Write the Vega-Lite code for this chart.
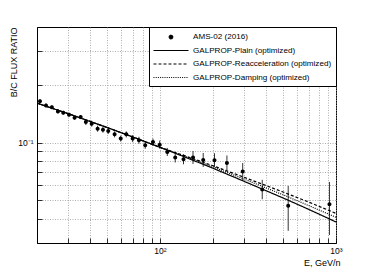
{
  "$schema": "https://vega.github.io/schema/vega-lite/v6.json",
  "width": 299,
  "height": 216,
  "autosize": "none",
  "padding": {"left": 37, "top": 27, "right": 38, "bottom": 27},
  "background": "white",
  "config": {
    "font": "Liberation Sans",
    "view": {"stroke": "black", "strokeWidth": 1},
    "axis": {
      "domainColor": "black",
      "ticks": true,
      "tickSize": -5,
      "tickColor": "black",
      "tickWidth": 0.8,
      "grid": true,
      "gridColor": "#9a9a9a",
      "gridDash": [1, 1.5],
      "gridWidth": 0.8,
      "labelColor": "black",
      "labelFontSize": 8.5,
      "titleColor": "black",
      "titleFontSize": 9,
      "titleFontWeight": "normal"
    },
    "legend": {
      "title": null, "orient": "none", "legendX": 112, "legendY": 0,
      "padding": 4, "strokeColor": "black", "fillColor": "white",
      "symbolSize": 116, "symbolOffset": 12, "labelOffset": 16, "rowPadding": 2.5,
      "labelFont": "Liberation Sans", "labelFontSize": 8.1, "labelColor": "black",
      "symbolStrokeWidth": 1.2, "labelLimit": 0
    }
  },
  "datasets": {
    "ams": [
      {"E": 20.8, "v": 0.1644, "lo": 0.1605, "hi": 0.1684, "series": "AMS-02 (2016)"},
      {"E": 22.5, "v": 0.1562, "lo": 0.1525, "hi": 0.1600, "series": "AMS-02 (2016)"},
      {"E": 24.3, "v": 0.1530, "lo": 0.1494, "hi": 0.1567, "series": "AMS-02 (2016)"},
      {"E": 26.3, "v": 0.1454, "lo": 0.1420, "hi": 0.1489, "series": "AMS-02 (2016)"},
      {"E": 28.2, "v": 0.1431, "lo": 0.1397, "hi": 0.1466, "series": "AMS-02 (2016)"},
      {"E": 30.4, "v": 0.1398, "lo": 0.1365, "hi": 0.1432, "series": "AMS-02 (2016)"},
      {"E": 32.7, "v": 0.1348, "lo": 0.1316, "hi": 0.1381, "series": "AMS-02 (2016)"},
      {"E": 35.4, "v": 0.1358, "lo": 0.1326, "hi": 0.1391, "series": "AMS-02 (2016)"},
      {"E": 37.9, "v": 0.1279, "lo": 0.1234, "hi": 0.1326, "series": "AMS-02 (2016)"},
      {"E": 40.9, "v": 0.1255, "lo": 0.1211, "hi": 0.1301, "series": "AMS-02 (2016)"},
      {"E": 44.2, "v": 0.1182, "lo": 0.1140, "hi": 0.1225, "series": "AMS-02 (2016)"},
      {"E": 47.4, "v": 0.1168, "lo": 0.1127, "hi": 0.1211, "series": "AMS-02 (2016)"},
      {"E": 50.8, "v": 0.1149, "lo": 0.1109, "hi": 0.1191, "series": "AMS-02 (2016)"},
      {"E": 55.2, "v": 0.1104, "lo": 0.1065, "hi": 0.1144, "series": "AMS-02 (2016)"},
      {"E": 59.8, "v": 0.1049, "lo": 0.1012, "hi": 0.1087, "series": "AMS-02 (2016)"},
      {"E": 64.3, "v": 0.1104, "lo": 0.1065, "hi": 0.1144, "series": "AMS-02 (2016)"},
      {"E": 69.9, "v": 0.1049, "lo": 0.1006, "hi": 0.1094, "series": "AMS-02 (2016)"},
      {"E": 75.9, "v": 0.1028, "lo": 0.0986, "hi": 0.1072, "series": "AMS-02 (2016)"},
      {"E": 82.4, "v": 0.0968, "lo": 0.0928, "hi": 0.1009, "series": "AMS-02 (2016)"},
      {"E": 91.2, "v": 0.1007, "lo": 0.0966, "hi": 0.1050, "series": "AMS-02 (2016)"},
      {"E": 99.6, "v": 0.0976, "lo": 0.0930, "hi": 0.1024, "series": "AMS-02 (2016)"},
      {"E": 110, "v": 0.0894, "lo": 0.0852, "hi": 0.0938, "series": "AMS-02 (2016)"},
      {"E": 122, "v": 0.0836, "lo": 0.0788, "hi": 0.0887, "series": "AMS-02 (2016)"},
      {"E": 136, "v": 0.0819, "lo": 0.0771, "hi": 0.0869, "series": "AMS-02 (2016)"},
      {"E": 154, "v": 0.0836, "lo": 0.0774, "hi": 0.0904, "series": "AMS-02 (2016)"},
      {"E": 176, "v": 0.0812, "lo": 0.0747, "hi": 0.0883, "series": "AMS-02 (2016)"},
      {"E": 204, "v": 0.0809, "lo": 0.0744, "hi": 0.0880, "series": "AMS-02 (2016)"},
      {"E": 240, "v": 0.0784, "lo": 0.0717, "hi": 0.0857, "series": "AMS-02 (2016)"},
      {"E": 295, "v": 0.0707, "lo": 0.0639, "hi": 0.0783, "series": "AMS-02 (2016)"},
      {"E": 381, "v": 0.0570, "lo": 0.0507, "hi": 0.0640, "series": "AMS-02 (2016)"},
      {"E": 535, "v": 0.0469, "lo": 0.0347, "hi": 0.0595, "series": "AMS-02 (2016)"},
      {"E": 918, "v": 0.0477, "lo": 0.0330, "hi": 0.0624, "series": "AMS-02 (2016)"}
    ],
    "model": [
      {"E": 20, "v": 0.1605, "series": "GALPROP-Plain (optimized)"},
      {"E": 30, "v": 0.1416, "series": "GALPROP-Plain (optimized)"},
      {"E": 50, "v": 0.1199, "series": "GALPROP-Plain (optimized)"},
      {"E": 70, "v": 0.1070, "series": "GALPROP-Plain (optimized)"},
      {"E": 100, "v": 0.0945, "series": "GALPROP-Plain (optimized)"},
      {"E": 150, "v": 0.0817, "series": "GALPROP-Plain (optimized)"},
      {"E": 200, "v": 0.0735, "series": "GALPROP-Plain (optimized)"},
      {"E": 300, "v": 0.0629, "series": "GALPROP-Plain (optimized)"},
      {"E": 500, "v": 0.0515, "series": "GALPROP-Plain (optimized)"},
      {"E": 700, "v": 0.0449, "series": "GALPROP-Plain (optimized)"},
      {"E": 1000, "v": 0.0386, "series": "GALPROP-Plain (optimized)"},
      {"E": 20, "v": 0.1605, "series": "GALPROP-Reacceleration (optimized)"},
      {"E": 30, "v": 0.1416, "series": "GALPROP-Reacceleration (optimized)"},
      {"E": 50, "v": 0.1199, "series": "GALPROP-Reacceleration (optimized)"},
      {"E": 70, "v": 0.1070, "series": "GALPROP-Reacceleration (optimized)"},
      {"E": 100, "v": 0.0945, "series": "GALPROP-Reacceleration (optimized)"},
      {"E": 150, "v": 0.0832, "series": "GALPROP-Reacceleration (optimized)"},
      {"E": 200, "v": 0.0758, "series": "GALPROP-Reacceleration (optimized)"},
      {"E": 300, "v": 0.0660, "series": "GALPROP-Reacceleration (optimized)"},
      {"E": 500, "v": 0.0553, "series": "GALPROP-Reacceleration (optimized)"},
      {"E": 700, "v": 0.0490, "series": "GALPROP-Reacceleration (optimized)"},
      {"E": 1000, "v": 0.0428, "series": "GALPROP-Reacceleration (optimized)"},
      {"E": 20, "v": 0.1605, "series": "GALPROP-Damping (optimized)"},
      {"E": 30, "v": 0.1416, "series": "GALPROP-Damping (optimized)"},
      {"E": 50, "v": 0.1199, "series": "GALPROP-Damping (optimized)"},
      {"E": 70, "v": 0.1070, "series": "GALPROP-Damping (optimized)"},
      {"E": 100, "v": 0.0945, "series": "GALPROP-Damping (optimized)"},
      {"E": 150, "v": 0.0825, "series": "GALPROP-Damping (optimized)"},
      {"E": 200, "v": 0.0747, "series": "GALPROP-Damping (optimized)"},
      {"E": 300, "v": 0.0646, "series": "GALPROP-Damping (optimized)"},
      {"E": 500, "v": 0.0535, "series": "GALPROP-Damping (optimized)"},
      {"E": 700, "v": 0.0470, "series": "GALPROP-Damping (optimized)"},
      {"E": 1000, "v": 0.0408, "series": "GALPROP-Damping (optimized)"}
    ]
  },
  "layer": [
    {
      "data": {"name": "model"},
      "mark": {"type": "line", "strokeWidth": 1.2, "clip": true},
      "encoding": {
        "x": {
          "field": "E", "type": "quantitative",
          "scale": {"type": "log", "domain": [20, 1000], "nice": false},
          "axis": {
            "values": [30, 40, 50, 60, 70, 80, 90, 100, 200, 300, 400, 500, 600, 700, 800, 900, 1000],
            "labelExpr": "datum.value == 100 ? '10²' : (datum.value == 1000 ? '10³' : '')",
            "labelPadding": 8,
            "labelFlush": false,
            "labelOverlap": false,
            "title": "E, GeV/n",
            "titleX": 303,
            "titleY": 22,
            "titleAlign": "right",
            "titleBaseline": "alphabetic",
            "titleAnchor": null
          }
        },
        "y": {
          "field": "v", "type": "quantitative",
          "scale": {"type": "log", "domain": [0.03, 0.4], "nice": false},
          "axis": {
            "values": [0.04, 0.05, 0.06, 0.07, 0.08, 0.09, 0.1, 0.2, 0.3],
            "labelExpr": "datum.value == 0.1 ? '10⁻¹' : ''",
            "labelPadding": 9,
            "labelOverlap": false,
            "title": "B/C FLUX RATIO",
            "titleX": -23.7,
            "titleY": 0,
            "titleAngle": -90,
            "titleAlign": "right",
            "titleBaseline": "middle",
            "titleAnchor": null
          }
        },
        "stroke": {
          "field": "series", "type": "nominal",
          "scale": {
            "domain": ["AMS-02 (2016)", "GALPROP-Plain (optimized)", "GALPROP-Reacceleration (optimized)", "GALPROP-Damping (optimized)"],
            "range": ["black", "black", "black", "black"]
          }
        },
        "strokeDash": {
          "field": "series", "type": "nominal",
          "scale": {
            "domain": ["AMS-02 (2016)", "GALPROP-Plain (optimized)", "GALPROP-Reacceleration (optimized)", "GALPROP-Damping (optimized)"],
            "range": [[1, 0], [1, 0], [3, 2], [1, 1.2]]
          }
        }
      }
    },
    {
      "data": {"name": "ams"},
      "mark": {"type": "rule", "color": "black", "strokeWidth": 0.8},
      "encoding": {
        "x": {"field": "E", "type": "quantitative"},
        "y": {"field": "lo", "type": "quantitative"},
        "y2": {"field": "hi"}
      }
    },
    {
      "data": {"name": "ams"},
      "mark": {"type": "point", "filled": true, "fill": "black", "size": 147, "opacity": 1},
      "encoding": {
        "x": {"field": "E", "type": "quantitative"},
        "y": {"field": "v", "type": "quantitative"},
        "shape": {
          "field": "series", "type": "nominal",
          "scale": {
            "domain": ["AMS-02 (2016)", "GALPROP-Plain (optimized)", "GALPROP-Reacceleration (optimized)", "GALPROP-Damping (optimized)"],
            "range": ["M-0.33,0A0.33,0.33 0 1,0 0.33,0A0.33,0.33 0 1,0 -0.33,0Z", "M-3.25,0H3.25", "M-3.25,0H3.25", "M-3.25,0H3.25"]
          }
        }
      }
    }
  ]
}
